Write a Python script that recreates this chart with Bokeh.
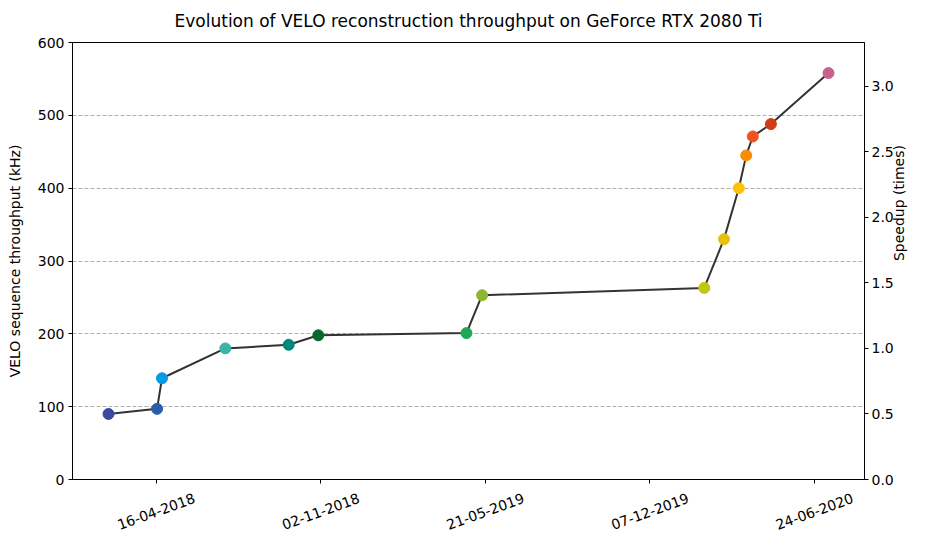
import numpy as np
import pandas as pd
from bokeh.plotting import figure
from bokeh.layouts import column
from bokeh.models import (Range1d, LinearAxis, FixedTicker, NumeralTickFormatter,
                          ColumnDataSource)
from bokeh.core.properties import value
from bokeh.embed import file_html
from bokeh.resources import INLINE

# ---- data ----
dates = ["2018-02-17", "2018-04-17", "2018-04-23", "2018-07-09", "2018-09-24",
         "2018-10-30", "2019-04-28", "2019-05-17", "2020-02-11", "2020-03-06",
         "2020-03-24", "2020-04-02", "2020-04-10", "2020-05-02", "2020-07-11"]
throughput_khz = [90, 97, 139, 180, 185, 198, 201, 253, 263, 330, 400, 445, 471, 488, 558]
point_colors = ["#3949A0", "#2B5CAE", "#039BE5", "#3DB2A8", "#00897B",
                "#07692A", "#1EA857", "#8FB531", "#BFC70E", "#E6C10A",
                "#FFC107", "#FB8C00", "#F4511E", "#D03C14", "#C9608D"]
tick_dates = ["2018-04-16", "2018-11-02", "2019-05-21", "2019-12-07", "2020-06-24"]
y_ticks = [0, 100, 200, 300, 400, 500, 600]
speedup_base_khz = 180.0
speedup_ticks = [0.0, 0.5, 1.0, 1.5, 2.0, 2.5, 3.0]

FONT = "DejaVu Sans"
FRAME_W = 792
BORDER_L = 72

x = pd.to_datetime(dates)
src = ColumnDataSource(dict(x=x, y=throughput_khz, c=point_colors))

xmin, xmax = x.min(), x.max()
pad = (xmax - xmin) * 0.05
xr = Range1d(xmin - pad, xmax + pad)

p = figure(frame_width=FRAME_W, frame_height=437, x_axis_type="datetime",
           output_backend="svg", toolbar_location=None,
           x_range=xr, y_range=Range1d(0, 600),
           min_border_left=BORDER_L, min_border_right=40, min_border_top=42, min_border_bottom=10)

p.title.text = "Evolution of VELO reconstruction throughput on GeForce RTX 2080 Ti"
p.title.align = "center"
p.title.vertical_align = "top"
p.title.standoff = 20
p.title.text_font = FONT
p.title.text_font_size = "17px"
p.title.text_font_style = "normal"
p.title.text_color = "black"

p.line("x", "y", source=src, line_color="#333333", line_width=2)
p.scatter("x", "y", source=src, size=11, fill_color="c", line_color="c")

p.outline_line_color = "black"
p.outline_line_width = 1
p.outline_line_alpha = 1.0

p.xgrid.visible = False
p.ygrid.grid_line_color = "#b0b0b0"
p.ygrid.grid_line_dash = "4 2"
p.ygrid.grid_line_width = 1

tick_x = pd.to_datetime(tick_dates)
tick_ms = [t.value / 1e6 for t in tick_x]
xa = p.xaxis[0]
xa.ticker = FixedTicker(ticks=tick_ms)
xa.major_label_overrides = {t: "" for t in tick_ms}

ya = p.yaxis[0]
ya.ticker = FixedTicker(ticks=y_ticks)
ya.axis_label = "VELO sequence throughput (kHz)"

p.extra_y_ranges = {"speedup": Range1d(0, 600 / speedup_base_khz)}
ra = LinearAxis(y_range_name="speedup", axis_label="Speedup (times)",
                ticker=FixedTicker(ticks=speedup_ticks),
                formatter=NumeralTickFormatter(format="0.0"))
p.add_layout(ra, "right")

for ax in [xa, ya, ra]:
    ax.axis_line_color = "black"
    ax.major_tick_line_color = "black"
    ax.major_tick_out = 4
    ax.major_tick_in = 0
    ax.minor_tick_line_color = None
    ax.major_label_text_font = FONT
    ax.major_label_text_font_size = "14px"
    ax.major_label_text_color = "black"
    ax.axis_label_text_font = FONT
    ax.axis_label_text_font_size = "14px"
    ax.axis_label_text_font_style = "normal"
    ax.axis_label_text_color = "black"
    ax.major_label_standoff = 4

xa.major_label_text_font_size = "0px"
xa.major_label_standoff = 0
ya.axis_label_standoff = 12
ra.major_label_standoff = 3
ra.axis_label_standoff = 2
ra.axis_label_orientation = np.pi / 2

# strip under the plot holding the date labels, centred under each tick and
# rotated by 20 degrees as in the reference
q = figure(frame_width=FRAME_W, frame_height=44, x_range=xr, y_range=Range1d(0, 1),
           x_axis_type="datetime", x_axis_location=None, y_axis_location=None,
           output_backend="svg", toolbar_location=None,
           min_border_left=BORDER_L, min_border_right=0, min_border_top=0, min_border_bottom=0)
q.outline_line_color = None
q.xgrid.visible = False
q.ygrid.visible = False
lab_src = ColumnDataSource(dict(x=tick_x, y=[0.5] * len(tick_dates),
                                t=[t.strftime("%d-%m-%Y") for t in tick_x]))
q.text(x="x", y="y", text="t", source=lab_src, angle=np.deg2rad(20),
       text_align="center", text_baseline="middle",
       text_font=value(FONT), text_font_size="14px", text_color="black")

layout = column(p, q, spacing=0)
open("out.html", "w").write(file_html(layout, INLINE))
